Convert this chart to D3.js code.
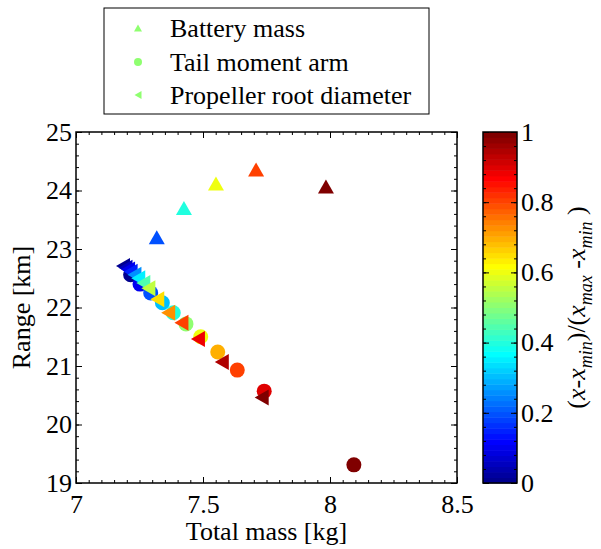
<!DOCTYPE html>
<html>
<head>
<meta charset="utf-8">
<script src="https://cdn.jsdelivr.net/npm/d3@7"></script>
<style>
body { margin: 0; background: #fff; }
svg text { font-family: "Liberation Serif", "Times New Roman", serif !important; fill: #000; }
</style>
</head>
<body>
<div id="chart"></div>
<script>
// values
const battMass  = [7.228, 7.318, 7.425, 7.551, 7.709, 7.984];
const battRange = [22.62, 23.20, 23.70, 24.12, 24.36, 24.07];
const battNorm  = [0, 0.2, 0.4, 0.6, 0.8, 1];

const tailMass  = [7.215, 7.252, 7.294, 7.340, 7.383, 7.433, 7.491, 7.558, 7.635, 7.741, 8.094];
const tailRange = [22.56, 22.40, 22.25, 22.08, 21.91, 21.72, 21.50, 21.24, 20.93, 20.57, 19.31];
const tailNorm  = [0, 0.1, 0.2, 0.3, 0.4, 0.5, 0.6, 0.7, 0.8, 0.9, 1];

const propMass  = [7.185, 7.195, 7.205, 7.215, 7.230, 7.245, 7.265, 7.285, 7.320, 7.363, 7.415, 7.480, 7.574, 7.731];
const propRange = [22.71, 22.68, 22.65, 22.61, 22.56, 22.50, 22.42, 22.33, 22.14, 21.91, 21.74, 21.46, 21.07, 20.46];
const propNorm  = [0, 0.05, 0.1, 0.15, 0.25, 0.35, 0.45, 0.55, 0.65, 0.72, 0.8, 0.88, 0.95, 1];

const seriesNames = ["Battery mass", "Tail moment arm", "Propeller root diameter"];
const xTicks = [7, 7.5, 8, 8.5];
const yTicks = [19, 20, 21, 22, 23, 24, 25];
const cTicks = [0, 0.2, 0.4, 0.6, 0.8, 1];

var W = 601, H = 549;
var plot = {left: 76, right: 457, top: 132, bottom: 483};
var cbar = {left: 483, right: 517};
var fs = "26px";
var serif = "'Liberation Serif', 'Times New Roman', serif";

var xScale = d3.scaleLinear().domain([7, 8.5]).range([plot.left, plot.right]);
var yScale = d3.scaleLinear().domain([19, 25]).range([plot.bottom, plot.top]);
var cScale = d3.scaleLinear().domain([0, 1]).range([plot.bottom, plot.top]);

// matlab jet(64)
function u(k) {
  if (k < 1 || k > 47) return 0;
  if (k <= 16) return k / 16;
  if (k <= 31) return 1;
  return (48 - k) / 16;
}
function jetRow(i) {
  return d3.rgb(255 * u(i - 24), 255 * u(i - 8), 255 * u(i + 8)).toString();
}
function jet(v) {
  var i = Math.min(64, Math.floor(v * 64) + 1);
  return jetRow(i);
}

var svg = d3.select("#chart").append("svg")
    .attr("width", W)
    .attr("height", H)
    .attr("font-family", serif);

// marker shapes
var triUp = function(w, h) { return "M0," + (-h/2) + "L" + (w/2) + "," + (h/2) + "L" + (-w/2) + "," + (h/2) + "Z"; };
var triLeft = function(w, h) { return "M" + (-w/2) + ",0L" + (w/2) + "," + (-h/2) + "L" + (w/2) + "," + (h/2) + "Z"; };

// battery mass
svg.append("g").selectAll("path")
    .data(battMass)
    .enter().append("path")
    .attr("d", triUp(16, 14))
    .attr("transform", function(d, i) { return "translate(" + xScale(d) + "," + yScale(battRange[i]) + ")"; })
    .style("fill", function(d, i) { return jet(battNorm[i]); });

// tail moment arm
svg.append("g").selectAll("circle")
    .data(tailMass)
    .enter().append("circle")
    .attr("cx", function(d) { return xScale(d); })
    .attr("cy", function(d, i) { return yScale(tailRange[i]); })
    .attr("r", 7.5)
    .style("fill", function(d, i) { return jet(tailNorm[i]); });

// propeller root diameter
svg.append("g").selectAll("path")
    .data(propMass)
    .enter().append("path")
    .attr("d", triLeft(14, 16))
    .attr("transform", function(d, i) { return "translate(" + xScale(d) + "," + yScale(propRange[i]) + ")"; })
    .style("fill", function(d, i) { return jet(propNorm[i]); });

// axes box with inward ticks
var ax = svg.append("g");
ax.append("rect")
    .attr("x", plot.left).attr("y", plot.top)
    .attr("width", plot.right - plot.left).attr("height", plot.bottom - plot.top)
    .style("fill", "none").style("stroke", "#000").style("stroke-width", 1.5);

var xMinor = d3.range(7, 8.5001, 0.05);
var yMinor = d3.range(19, 25.0001, 0.2);

ax.append("g").attr("transform", "translate(0," + plot.bottom + ")")
    .call(d3.axisBottom(xScale).tickValues(xMinor).tickSize(-3).tickFormat(""));
ax.append("g").attr("transform", "translate(0," + plot.top + ")")
    .call(d3.axisTop(xScale).tickValues(xMinor).tickSize(-3).tickFormat(""));
ax.append("g").attr("transform", "translate(" + plot.left + ",0)")
    .call(d3.axisLeft(yScale).tickValues(yMinor).tickSize(-3).tickFormat(""));
ax.append("g").attr("transform", "translate(" + plot.right + ",0)")
    .call(d3.axisRight(yScale).tickValues(yMinor).tickSize(-3).tickFormat(""));

ax.append("g").attr("transform", "translate(0," + plot.bottom + ")")
    .call(d3.axisBottom(xScale).tickValues(xTicks).tickSize(-6).tickPadding(12).tickFormat(d3.format("")));
ax.append("g").attr("transform", "translate(0," + plot.top + ")")
    .call(d3.axisTop(xScale).tickValues(xTicks).tickSize(-6).tickFormat(""));
ax.append("g").attr("transform", "translate(" + plot.left + ",0)")
    .call(d3.axisLeft(yScale).tickValues(yTicks).tickSize(-6).tickPadding(4).tickFormat(d3.format("")));
ax.append("g").attr("transform", "translate(" + plot.right + ",0)")
    .call(d3.axisRight(yScale).tickValues(yTicks).tickSize(-6).tickFormat(""));

ax.selectAll("g").attr("font-family", serif).attr("font-size", fs);
ax.selectAll(".domain").remove();
ax.selectAll(".tick line").style("stroke", "#000").style("stroke-width", 1);
ax.selectAll(".tick text")
    .style("font-family", serif)
    .style("font-size", fs)
    .style("fill", "#000");

// axis labels
svg.append("text")
    .attr("x", (plot.left + plot.right) / 2)
    .attr("y", 540)
    .attr("text-anchor", "middle")
    .style("font-size", fs)
    .text("Total mass [kg]");

svg.append("text")
    .attr("transform", "translate(30," + ((plot.top + plot.bottom) / 2) + ") rotate(-90)")
    .attr("text-anchor", "middle")
    .style("font-size", fs)
    .text("Range [km]");

// colorbar
var cb = svg.append("g");
cb.selectAll("rect")
    .data(d3.range(1, 65))
    .enter().append("rect")
    .attr("x", cbar.left)
    .attr("width", cbar.right - cbar.left)
    .attr("y", function(d) { return cScale(d / 64); })
    .attr("height", function(d) { return cScale((d - 1) / 64) - cScale(d / 64) + 0.5; })
    .style("fill", function(d) { return jetRow(d); });

cb.append("rect")
    .attr("x", cbar.left).attr("y", plot.top)
    .attr("width", cbar.right - cbar.left).attr("height", plot.bottom - plot.top)
    .style("fill", "none").style("stroke", "#000").style("stroke-width", 1.5);

var cMinor = d3.range(0, 1.0001, 0.04);
cb.append("g").attr("transform", "translate(" + cbar.left + ",0)")
    .call(d3.axisLeft(cScale).tickValues(cMinor).tickSize(-3).tickFormat(""));
cb.append("g").attr("transform", "translate(" + cbar.right + ",0)")
    .call(d3.axisRight(cScale).tickValues(cMinor).tickSize(-3).tickFormat(""));
cb.append("g").attr("transform", "translate(" + cbar.left + ",0)")
    .call(d3.axisLeft(cScale).tickValues(cTicks).tickSize(-6).tickFormat(""));
cb.append("g").attr("transform", "translate(" + cbar.right + ",0)")
    .call(d3.axisRight(cScale).tickValues(cTicks).tickSize(-6).tickPadding(4).tickFormat(d3.format("")));
cb.selectAll("g").attr("font-family", serif).attr("font-size", fs);
cb.selectAll(".domain").remove();
cb.selectAll(".tick line").style("stroke", "#000");
cb.selectAll(".tick text")
    .style("font-family", serif)
    .style("font-size", fs)
    .style("fill", "#000");

// colorbar label (x-x_min)/(x_max-x_min)
var cl = svg.append("text")
    .attr("transform", "translate(585," + ((plot.top + plot.bottom) / 2) + ") rotate(-90)")
    .attr("text-anchor", "middle")
    .style("font-size", fs);
var parts = [
  {t: "(", it: false, sub: false},
  {t: "x", it: true, sub: false},
  {t: "-", it: false, sub: false},
  {t: "x", it: true, sub: false},
  {t: "min", it: true, sub: true},
  {t: ")/(", it: false, sub: false},
  {t: "x", it: true, sub: false},
  {t: "max", it: true, sub: true},
  {t: " -", it: false, sub: false},
  {t: "x", it: true, sub: false},
  {t: "min", it: true, sub: true},
  {t: " )", it: false, sub: false}
];
var wasSub = false;
parts.forEach(function(p) {
  var ts = cl.append("tspan").text(p.t);
  if (p.it) ts.style("font-style", "italic");
  if (p.sub) ts.style("font-size", "18px");
  if (p.sub && !wasSub) ts.attr("dy", 7);
  if (!p.sub && wasSub) ts.attr("dy", -7);
  wasSub = p.sub;
});

// legend
var lg = svg.append("g");
lg.append("rect")
    .attr("x", 104).attr("y", 8).attr("width", 325).attr("height", 106)
    .style("fill", "#fff").style("stroke", "#000").style("stroke-width", 1);
var legendRows = [28, 62, 95];
var legendColor = jetRow(33);
lg.append("path").attr("d", triUp(8, 7)).attr("transform", "translate(138," + legendRows[0] + ")").style("fill", legendColor);
lg.append("circle").attr("cx", 138).attr("cy", legendRows[1]).attr("r", 4).style("fill", legendColor);
lg.append("path").attr("d", triLeft(7, 8)).attr("transform", "translate(138," + legendRows[2] + ")").style("fill", legendColor);
lg.selectAll("text.lab")
    .data(seriesNames)
    .enter().append("text")
    .attr("class", "lab")
    .attr("x", 170)
    .attr("y", function(d, i) { return legendRows[i] + 9; })
    .style("font-size", fs)
    .text(function(d) { return d; });
</script>
</body>
</html>
